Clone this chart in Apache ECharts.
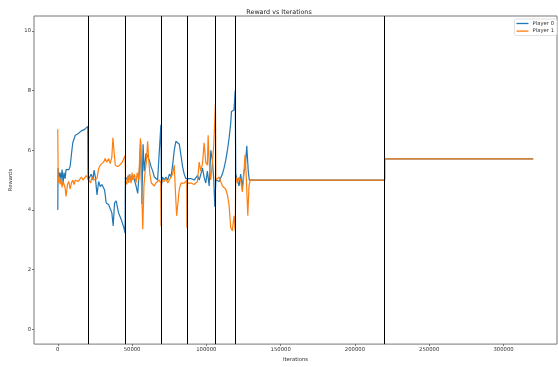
<!DOCTYPE html>
<html>
<head>
<meta charset="utf-8">
<script src="https://cdn.jsdelivr.net/npm/echarts@6/dist/echarts.min.js"></script>
<style>
  html, body { margin: 0; padding: 0; background: #fff; }
  #chart { width: 558px; height: 367px; }
</style>
</head>
<body>
<div id="chart"></div>
<script>
// reward of each player, [iteration, reward]
var player0 = [
  [0, 4.0], [200, 5.4], [900, 5.1], [1600, 5.25], [2200, 5.0], [2900, 5.35], [3600, 4.9], [4200, 5.25],
  [4900, 5.05], [5600, 5.35], [6500, 5.4], [7400, 5.35], [8300, 5.45], [8800, 5.45], [9500, 6.0],
  [10100, 6.25], [11000, 6.3], [11800, 6.5], [12700, 6.5], [13600, 6.55], [14700, 6.6], [15900, 6.65],
  [17000, 6.7], [18100, 6.7], [19200, 6.75], [20200, 6.8],
  [20400, 5.0], [21400, 4.95], [22600, 5.2], [23700, 5.0], [24400, 5.33], [25300, 5.1], [26400, 4.5],
  [27500, 4.95], [28600, 4.78], [29700, 4.85], [31500, 4.67], [32600, 4.23], [34200, 4.18], [35500, 4.23],
  [36400, 3.9], [37300, 3.46], [38200, 4.23], [39300, 4.3], [40900, 3.9], [42700, 3.68], [44500, 3.4],
  [45300, 3.22],
  [45500, 5.1], [47100, 5.0], [48300, 5.2], [49400, 4.95], [50500, 5.15], [51600, 5.0], [52700, 4.8],
  [53800, 4.55], [55000, 5.4], [55800, 6.3], [56600, 4.2], [57400, 6.2], [58200, 5.3], [59400, 5.9],
  [60500, 5.8], [61700, 5.65], [62800, 5.45], [63900, 5.3], [65000, 5.1], [66100, 5.05], [67200, 5.0],
  [68300, 5.05], [69400, 6.85], [69800, 4.8], [70500, 5.1], [71700, 5.0], [72800, 5.1], [74000, 5.0],
  [75100, 5.2], [76200, 5.1], [77300, 5.5], [78400, 6.0], [79500, 6.3], [80500, 6.35], [81800, 6.2],
  [83000, 5.8], [84000, 5.45], [85100, 5.2], [86200, 5.05], [87000, 5.0],
  [87500, 5.0], [89600, 5.05], [91800, 5.0], [94000, 5.15], [95200, 5.0], [96300, 5.2], [97400, 5.4],
  [98500, 5.1], [99600, 4.9], [100700, 5.3], [101900, 4.8], [103000, 6.0], [104100, 5.65], [105000, 5.0],
  [105700, 4.1], [106400, 5.0], [107500, 5.0], [108600, 4.95], [109700, 5.0], [110800, 5.2], [111900, 5.4],
  [113000, 5.65], [114200, 6.0], [115300, 6.4], [116400, 6.9], [116900, 7.3], [117500, 7.35], [118600, 7.35],
  [119400, 8.0], [119800, 5.2], [120900, 5.0], [122000, 4.8], [123100, 5.2], [124200, 4.75], [125300, 5.3],
  [126200, 5.4], [127200, 6.15], [128200, 5.3], [128900, 5.0], [129800, 5.05], [131000, 5.0],
  [220000, 5.0], [220000, 5.71], [320000, 5.71]
]
var player1 = [
  [0, 6.7], [300, 4.9], [900, 5.1], [1600, 4.85], [2200, 5.05], [2900, 4.75], [3600, 4.95], [4200, 5.0],
  [4900, 4.75], [5600, 4.45], [6500, 4.85], [7400, 4.95], [8300, 4.7], [9200, 4.9], [10100, 5.0],
  [11000, 4.85], [11800, 5.0], [12700, 5.05], [13600, 4.95], [14700, 5.0], [15900, 5.1], [17000, 5.0],
  [18100, 5.05], [19200, 5.15], [20200, 5.15],
  [20500, 5.05], [22100, 4.9], [23000, 5.1], [24100, 5.0], [25300, 4.95], [26400, 5.05], [27500, 5.38],
  [28600, 5.5], [29700, 5.45], [30800, 5.6], [31900, 5.72], [33000, 5.6], [34200, 5.72], [35300, 5.55],
  [36400, 5.77], [37100, 6.42], [37800, 6.0], [38700, 5.5], [40100, 5.45], [41700, 5.5], [43400, 5.6],
  [45300, 5.82],
  [45600, 5.0], [46500, 4.85], [47100, 5.15], [47800, 4.9], [48300, 5.2], [49400, 4.9], [50000, 5.25],
  [50500, 5.0], [51600, 5.2], [52700, 4.9], [53500, 5.25], [54500, 5.0], [55600, 6.4], [56300, 5.0],
  [57200, 3.35], [58000, 4.8], [58800, 5.3], [59600, 5.6], [60500, 6.3], [61200, 5.7], [62000, 5.2],
  [63000, 4.9], [64000, 4.85], [65000, 4.8], [66000, 4.9], [67200, 4.95], [68300, 5.0], [69300, 4.9],
  [69500, 3.45], [69700, 5.0], [70500, 5.0], [71700, 4.95], [72800, 5.05], [74000, 4.9], [75100, 5.0],
  [76200, 5.1], [77300, 5.2], [78400, 5.5], [79300, 4.5], [80000, 3.8], [80800, 4.2], [81800, 4.7],
  [83000, 4.9], [84000, 4.95], [85100, 4.9], [86200, 4.9], [86800, 5.0], [86900, 3.4], [87100, 4.9],
  [89600, 4.9], [91800, 4.85], [94000, 4.95], [95200, 5.6], [96300, 5.3], [97400, 5.55], [98500, 6.25],
  [99600, 5.6], [100700, 5.5], [101200, 6.5], [101900, 5.6], [102900, 5.0], [104100, 5.6], [105000, 6.2],
  [106100, 7.55], [106400, 5.0], [107500, 5.0], [108600, 5.1], [109700, 5.05], [110800, 4.8], [112000, 4.75],
  [113000, 4.7], [114200, 4.5], [115300, 4.15], [116400, 3.4], [117500, 3.3], [118600, 3.8], [119400, 3.3],
  [119800, 5.1], [120900, 4.9], [122000, 5.1], [123100, 5.0], [124200, 4.6], [125000, 5.0], [126000, 5.85],
  [126800, 5.2], [127900, 3.8], [128700, 4.8], [129500, 5.0], [131000, 5.0],
  [220000, 5.0], [220000, 5.71], [320000, 5.71]
]
// vertical markers (episode boundaries)
var boundaries = [20300, 45400, 69500, 86900, 106100, 119500, 220000]

var xTicks = [0, 50000, 100000, 150000, 200000, 250000, 300000]
var yTicks = [0, 2, 4, 6, 8, 10]

var font = 'DejaVu Sans'
var chart = echarts.init(document.getElementById('chart'))
chart.setOption({
  animation: false,
  textStyle: { fontFamily: font },
  title: {
    text: 'Reward vs Iterations',
    left: 'center',
    top: 4,
    textStyle: { fontFamily: font, fontSize: 6.4, fontWeight: 'normal', color: '#222' }
  },
  legend: {
    right: 1,
    top: 19,
    orient: 'vertical',
    data: ['Player 0', 'Player 1'],
    icon: 'rect',
    itemWidth: 12,
    itemHeight: 1.3,
    itemGap: 2.6,
    padding: [2, 3, 2, 2],
    borderColor: '#d8d8d8',
    borderWidth: 0.8,
    borderRadius: 2,
    backgroundColor: '#fff',
    textStyle: { fontFamily: font, fontSize: 5.3, color: '#333', padding: [0, 0, 0, -1] }
  },
  grid: {
    left: 34,
    right: 1,
    top: 16,
    bottom: 16,
    show: true,
    borderColor: '#777',
    borderWidth: 1
  },
  xAxis: {
    type: 'value',
    min: -16000,
    max: 336000,
    name: 'Iterations',
    nameLocation: 'middle',
    nameGap: 10,
    nameTextStyle: { fontFamily: font, fontSize: 5.3, color: '#333' },
    splitLine: { show: false },
    axisLine: { show: false, onZero: false },
    axisTick: { show: true, length: 2, lineStyle: { color: '#555', width: 0.8 }, customValues: xTicks },
    axisLabel: {
      fontSize: 5.3, color: '#333', margin: 3, customValues: xTicks,
      formatter: function (v) { return String(v) }
    }
  },
  yAxis: {
    type: 'value',
    min: -0.5,
    max: 10.5,
    name: 'Rewards',
    nameLocation: 'middle',
    nameGap: 13,
    nameTextStyle: { fontFamily: font, fontSize: 5.3, color: '#333' },
    splitLine: { show: false },
    axisLine: { show: false, onZero: false },
    axisTick: { show: true, length: 2, lineStyle: { color: '#555', width: 0.8 }, customValues: yTicks },
    axisLabel: {
      fontSize: 5.3, color: '#333', margin: 3, customValues: yTicks,
      formatter: function (v) { return String(v) }
    }
  },
  series: [
    {
      name: 'Player 0',
      type: 'line',
      data: player0,
      symbol: 'none',
      color: '#1f77b4',
      lineStyle: { width: 1.2 },
      z: 2
    },
    {
      name: 'Player 1',
      type: 'line',
      data: player1,
      symbol: 'none',
      color: '#ff7f0e',
      lineStyle: { width: 1.2 },
      z: 3
    },
    {
      type: 'line',
      data: [],
      silent: true,
      z: 5,
      markLine: {
        silent: true,
        symbol: 'none',
        label: { show: false },
        lineStyle: { color: '#000', width: 1, type: 'solid' },
        data: boundaries.map(function (b) { return { xAxis: b } })
      }
    }
  ]
})
</script>
</body>
</html>
